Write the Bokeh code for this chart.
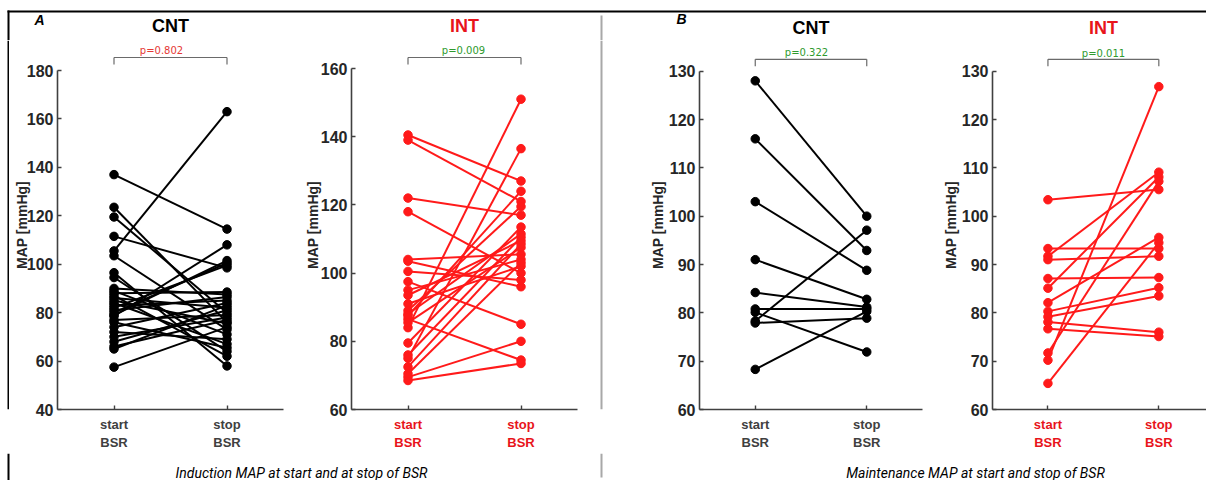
from bokeh.plotting import figure
from bokeh.layouts import row, column
from bokeh.models import Range1d, FixedTicker, Label, Arrow
from bokeh.embed import file_html
from bokeh.resources import INLINE

# ---------------- data ----------------
x_labels = ["start\nBSR", "stop\nBSR"]
y_label = "MAP [mmHg]"
panel_letters = ["A", "B"]
captions = ["Induction MAP at start and at stop of BSR",
            "Maintenance MAP at start and stop of BSR"]
titles = ["CNT", "INT", "CNT", "INT"]
p_values = ["p=0.802", "p=0.009", "p=0.322", "p=0.011"]

# Induction, control group
cnt_ind_start = [137, 123.5, 119.5, 111.5, 105.5, 103.5, 96.5, 94.5, 90, 89,
                 88, 87, 86, 85, 84, 83, 82, 81, 80, 79,
                 78.5, 77, 76, 74, 72, 70, 68, 66, 65, 57.5]
cnt_ind_stop = [114.5, 76, 80, 98.5, 163, 73, 58, 64, 87.5, 71,
                88.5, 62, 82, 75.5, 67, 85, 99.5, 86.5, 100.5, 101.5,
                108, 79, 65.5, 84, 69, 78, 81, 77, 83, 74]
# Induction, intervention group
int_ind_start = [140.5, 139, 122, 118, 84, 75, 104, 97.5, 69.5, 86.5,
                 68.5, 103.5, 100.5, 95, 93.5, 91, 89, 88, 87.5, 85.5,
                 79.5, 76, 72.5, 70.5]
int_ind_stop = [127, 121, 117, 100, 151, 136.5, 105.5, 85, 80, 74.5,
                73.5, 96, 98, 104, 109.5, 102, 119.5, 111.5, 124, 107.5,
                113.5, 110.5, 108.5, 103]
# Maintenance, control group
cnt_mnt_start = [128, 116, 103, 91, 84.2, 80.8, 80.1, 78.3, 77.9, 68.3]
cnt_mnt_stop = [100, 92.9, 88.8, 82.8, 81.2, 80.8, 71.9, 97.1, 78.9, 80.3]
# Maintenance, intervention group
int_mnt_start = [103.4, 93.3, 91.7, 91, 87.1, 85.1, 82.1, 80.3, 79.2, 78.1,
                 76.7, 71.7, 70.2, 65.4]
int_mnt_stop = [105.5, 93.3, 109.1, 91.7, 87.3, 108.1, 95.6, 85.2, 83.5, 76,
                75.1, 107.2, 126.8, 94.5]

ticks_ind_cnt = [40, 60, 80, 100, 120, 140, 160, 180]
ticks_ind_int = [60, 80, 100, 120, 140, 160]
ticks_mnt = [60, 70, 80, 90, 100, 110, 120, 130]

# ---------------- style / layout ----------------
RED = "#ff1a1a"
RED_TXT = "#e8141b"
GREEN_TXT = "#2e9a2e"
RED_P = "#e53935"
AX = "#404040"
DIV_COL = "#a8a8a8"
FONT = "Liberation Sans"
TOTAL_W = 1206
TOP_H = 40          # header strip
ROW_H = 413         # panel row
CAP_H = 27          # caption strip
LINE_X = 8          # left frame line
DIVIDER_X = 601
LEAD_W = 9          # strip left of panel 1
MID_X0, MID_W = 590, 22   # strip holding the divider between A and B


def make_panel(fig_x, W, fl, fr, ft, fb, yr, xr, ticks, starts, stops, dcol, lab_col,
               pval, pcol, pv_x, pv_y, br_y, lab_standoff):
    L = fl - fig_x
    FW = fr - fl
    R = W - L - FW
    B = TOP_H + ROW_H - fb
    span = (yr[1] - yr[0]) / (fb - ft)
    y_top = yr[1] + (ft - TOP_H) * span
    p = figure(width=W, height=ROW_H, x_range=Range1d(*xr),
               y_range=Range1d(yr[0], y_top),
               min_border_left=L, min_border_right=R, min_border_top=0,
               min_border_bottom=B, output_backend="svg", toolbar_location=None)
    p.grid.visible = False
    p.outline_line_color = None
    p.background_fill_color = "white"
    p.border_fill_color = "white"

    def X(ax):
        return xr[0] + (ax - fl) * (xr[1] - xr[0]) / FW

    def Y(ay):
        return yr[0] + (fb - ay) * span

    pos = [i + 1 for i in range(len(x_labels))]
    n = len(starts)
    p.multi_line(xs=[pos] * n, ys=[[a, b] for a, b in zip(starts, stops)],
                 line_color=dcol, line_width=2)
    p.scatter([pos[0]] * n, starts, size=8.5, color=dcol)
    p.scatter([pos[1]] * n, stops, size=8.5, color=dcol)

    for ax in (p.xaxis[0], p.yaxis[0]):
        ax.axis_line_color = AX
        ax.axis_line_width = 1.6
        ax.major_tick_line_color = AX
        ax.major_tick_line_width = 1.4
        ax.major_tick_in = 4
        ax.major_tick_out = 0
        ax.minor_tick_line_color = None
        ax.major_label_text_font = FONT
        ax.major_label_text_font_style = "bold"
    p.yaxis.bounds = (yr[0], yr[1])
    p.yaxis.ticker = FixedTicker(ticks=ticks)
    p.yaxis.major_label_text_font_size = "16px"
    p.yaxis.major_label_text_color = "#262626"
    p.yaxis.major_label_standoff = 4
    p.yaxis.axis_label = y_label
    p.yaxis.axis_label_text_font = FONT
    p.yaxis.axis_label_text_font_style = "bold"
    p.yaxis.axis_label_text_font_size = "14px"
    p.yaxis.axis_label_text_color = "#262626"
    p.yaxis.axis_label_standoff = lab_standoff
    p.xaxis.ticker = FixedTicker(ticks=pos)
    p.xaxis.major_label_overrides = {k: v for k, v in zip(pos, x_labels)}
    p.xaxis.major_label_text_font_size = "13px"
    p.xaxis.major_label_text_color = lab_col
    p.xaxis.major_label_standoff = 7

    # significance bracket
    bc = "#6a6a6a"
    p.add_layout(Arrow(x_start=pos[0], y_start=Y(br_y), x_end=pos[1], y_end=Y(br_y),
                       end=None, line_color=bc, line_width=1.2))
    for xx in pos:
        p.add_layout(Arrow(x_start=xx, y_start=Y(br_y), x_end=xx, y_end=Y(br_y + 7),
                           end=None, line_color=bc, line_width=1.2))
    p.add_layout(Label(x=X(pv_x), y=Y(pv_y), text=pval, text_align="center",
                       text_baseline="middle", text_font="DejaVu Sans",
                       text_font_size="10px", text_color=pcol))
    centre_px = fl + (sum(pos) / 2 - xr[0]) * FW / (xr[1] - xr[0])
    return p, centre_px


p1, c1 = make_panel(LEAD_W, 287, 57, 283, 70, 409, (40, 180), (0.5, 2.5), ticks_ind_cnt,
                    cnt_ind_start, cnt_ind_stop, "black", AX,
                    p_values[0], RED_P, 161, 50, 57, -6)
p2, c2 = make_panel(296, MID_X0 - 296, 351, 577, 68, 409, (60, 160), (0.5, 2.5),
                    ticks_ind_int, int_ind_start, int_ind_stop, RED, RED_TXT,
                    p_values[1], GREEN_TXT, 463, 50, 57, -3)
p3, c3 = make_panel(MID_X0 + MID_W, 935 - MID_X0 - MID_W, 699, 922, 71, 413, (60, 130),
                    (0.5, 2.5), ticks_mnt, cnt_mnt_start, cnt_mnt_stop, "black", AX,
                    p_values[2], GREEN_TXT, 806, 52, 59, 0)
p4, c4 = make_panel(935, 271, 992, 1206, 71, 413, (60, 130), (0.5, 2.43), ticks_mnt,
                    int_mnt_start, int_mnt_stop, RED, RED_TXT,
                    p_values[3], GREEN_TXT, 1103, 53, 59, 0)


def strip(w, h):
    s = figure(width=w, height=h, x_range=Range1d(0, w), y_range=Range1d(h, 0),
               x_axis_location=None, y_axis_location=None, min_border=0,
               output_backend="svg", toolbar_location=None)
    s.outline_line_color = None
    s.grid.visible = False
    s.background_fill_color = "white"
    s.border_fill_color = "white"
    return s


def vrule(x, y0, y1, color, fig):
    fig.add_layout(Arrow(x_start=x, y_start=y0, x_end=x, y_end=y1, end=None,
                         line_color=color, line_width=2))


# header strip: frame line, panel letters, group titles
top = strip(TOTAL_W, TOP_H)
top.add_layout(Arrow(x_start=LINE_X - 1, y_start=11, x_end=TOTAL_W, y_end=11, end=None,
                     line_color="black", line_width=2))
vrule(LINE_X, 10, TOP_H, "black", top)
vrule(DIVIDER_X, 15, TOP_H, DIV_COL, top)
for txt, xx, yy in zip(panel_letters, [39, 681], [19, 18]):
    top.add_layout(Label(x=xx, y=yy, text=txt, text_align="center", text_baseline="middle",
                         text_font=FONT, text_font_style="bold italic",
                         text_font_size="14px", text_color="black"))
for txt, xx, yy, col in zip(titles, [c1, c2, c3, c4], [25, 25, 27, 27.5],
                            ["black", RED_TXT, "black", RED_TXT]):
    top.add_layout(Label(x=xx, y=yy, text=txt, text_align="center", text_baseline="middle",
                         text_font=FONT, text_font_style="bold",
                         text_font_size="18px", text_color=col))

# caption strip
cap = strip(TOTAL_W, CAP_H)
vrule(LINE_X, 0, CAP_H, "black", cap)
vrule(DIVIDER_X, 0, 24, DIV_COL, cap)
for txt, xx in zip(captions, [301, 975]):
    cap.add_layout(Label(x=xx, y=19, text=txt, text_align="center",
                         text_baseline="middle", text_font="Roboto",
                         text_font_style="italic", text_font_size="14px",
                         text_color="black"))

# strips carrying the vertical rules through the panel row
lead = strip(LEAD_W, ROW_H)
vrule(LINE_X, 0, ROW_H, "black", lead)
mid = strip(MID_W, ROW_H)
vrule(DIVIDER_X - MID_X0, 0, ROW_H, DIV_COL, mid)

layout = column(top, row(lead, p1, p2, mid, p3, p4), cap)
open("out.html", "w").write(file_html(layout, INLINE))
